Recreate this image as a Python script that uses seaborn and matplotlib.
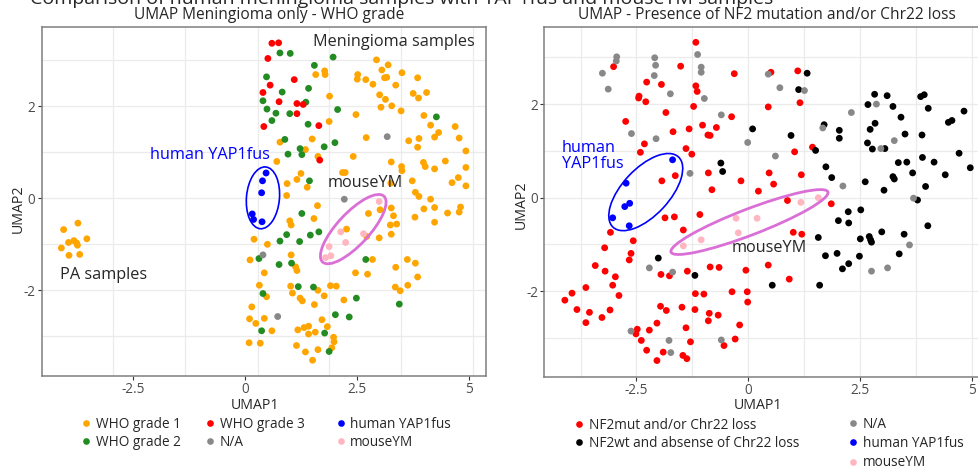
import numpy as np
import pandas as pd
import matplotlib
matplotlib.use("Agg")
import matplotlib.pyplot as plt
import matplotlib.transforms as mtransforms
from matplotlib.patches import Ellipse
from matplotlib.lines import Line2D
import seaborn as sns

# ---------------- left panel: WHO grade ----------------
grade1_x = [-4.06, -3.74, -3.54, -3.95, -3.83, -3.77, -3.75, -4.11, -3.94, -3.70,
            2.94, 3.20, 3.06, 1.78, 1.79, 1.58, 2.52, 2.51, 2.70, 3.17, 3.12, 3.51, 3.86,
            2.86, 3.37, 3.01, 3.76, 4.06, 3.88, 3.14, 1.89, 3.04, 3.28, 2.48, 3.49, 4.00,
            1.88, 4.15, 4.70, 4.33, 4.24, 3.89, 3.66, 4.79, 2.71, 1.50, 0.78, 3.86, 1.35,
            4.94, 2.42, 1.63, 0.71, 3.27, 3.99, 4.48, 3.50, 4.03, 4.24, 4.94, 3.51, 2.18,
            2.24, 1.25, 1.16, 4.77, 3.74, 3.26, 4.63, 0.94, 4.94, 1.39, 3.81, 0.93, 3.89,
            4.15,
            1.62, 3.27, 4.00, 4.24, 4.82, 4.79, 4.53, 4.24, 3.80, 3.32, 2.76, 3.02, 1.54,
            1.00, 1.03, 3.25, 3.39, 2.27, 2.72, 3.00, 3.27, 0.20, 0.50, 0.11, 1.03, 1.13,
            1.16, 0.43, 0.32, 0.48, 1.02, 1.06, 1.23, 1.28, 1.63, 1.77, 1.55, 1.91, 2.04,
            2.21, 2.47, 2.74, 2.85, 3.37, 3.63, 3.81, 3.86, 3.64, 3.36, 3.47, 0.15, 0.10,
            0.24, 0.43, 0.60, 1.18, 1.32, 1.42, 1.42, 1.57, 1.72, 1.84, 1.98, 1.99, 1.94,
            0.09, 0.34, 1.15, 1.35, 1.63, 1.51]
grade1_y = [-0.68, -0.54, -0.88, -0.96, -0.92, -0.97, -1.02, -1.08, -1.24, -1.22,
            3.01, 2.90, 2.79, 2.77, 2.69, 2.69, 2.69, 2.59, 2.58, 2.63, 2.62, 2.73, 2.62,
            2.48, 2.46, 2.25, 2.28, 2.30, 2.18, 2.15, 2.22, 1.98, 2.01, 1.82, 1.90, 1.80,
            1.67, 1.59, 1.56, 1.43, 1.33, 1.30, 1.25, 1.31, 1.32, 1.29, 1.22, 1.11, 1.06,
            1.03, 0.91, 0.91, 0.80, 0.79, 0.78, 0.81, 0.69, 0.69, 0.64, 0.67, 0.60, 0.56,
            0.56, 0.54, 0.41, 0.45, 0.38, 0.33, 0.34, 0.32, 0.27, 0.24, 0.13, 0.06, 0.04,
            -0.02,
            -0.16, -0.21, -0.23, -0.20, -0.19, -0.30, -0.32, -0.52, -0.41, -0.38, -0.33,
            -0.25, -0.44, -0.49, -0.58, -0.58, -0.56, -0.67, -0.83, -0.86, -0.78, -0.89,
            -1.00, -1.34, -1.23, -1.49, -1.57, -1.62, -1.89, -2.14, -1.91, -2.06, -2.17,
            -2.23, -2.00, -2.12, -2.31, -1.90, -1.91, -2.21, -1.62, -1.65, -1.33, -1.50,
            -1.33, -1.41, -1.71, -1.89, -1.93, -2.01, -2.36, -2.62, -2.72, -2.61, -2.88,
            -2.86, -2.81, -2.78, -2.95, -2.91, -2.64, -2.79, -3.02, -3.12, -3.25, -3.14,
            -3.15, -3.20, -3.34, -3.29, -3.52]

grade2_x = [0.78, 1.01, 1.97, 1.55, 0.48, 1.42, 0.83, 0.40, 1.36, 0.49, 0.69, 1.00,
            0.60, 2.07, 1.41, 4.28, 0.89, 2.01, 1.77, 1.23, 0.96, 1.27, 1.44,
            1.27, 0.93, 0.78, 1.22, 1.46, 1.65, 0.31, 0.76, 1.04, 2.70, 1.19, 1.53,
            0.40, 2.49, 2.02, 2.33, 3.45, 0.37, 1.78, 1.88]
grade2_y = [3.16, 3.15, 3.07, 2.89, 2.64, 2.39, 2.31, 2.12, 2.09, 1.94, 1.85, 1.84,
            1.69, 1.93, 1.61, 1.77, 1.28, 1.21, 1.12, 1.08, 0.96, 0.95, 0.38,
            -0.33, -0.79, -0.93, -0.94, -0.80, -0.73, -1.31, -1.44, -1.41, -1.33, -1.92,
            -1.93, -2.07, -2.17, -2.53, -2.58, -2.30, -2.88, -2.93, -3.33]

grade3_x = [0.60, 0.75, 0.51, 1.10, 0.56, 0.40, 0.76, 1.16, 1.30, 1.16, 0.42, 1.65, 1.67]
grade3_y = [3.37, 3.38, 3.04, 2.58, 2.46, 2.30, 2.10, 2.06, 2.04, 1.84, 1.56, 1.58, 0.83]

na_left_x = [3.18, 2.22, 0.40, 0.73]
na_left_y = [1.34, -0.02, -1.23, -2.57]

yap_left_x = [0.47, 0.39, 0.37, 0.16, 0.19, 0.38]
yap_left_y = [0.55, 0.38, 0.12, -0.34, -0.46, -0.51]

mouse_left_x = [3.00, 2.65, 2.14, 2.25, 1.88, 1.92, 1.80]
mouse_left_y = [-0.07, -0.77, -0.73, -0.96, -1.05, -1.25, -1.29]

# ---------------- right panel: NF2 / Chr22 ----------------
nf2mut_x = [-1.17, -3.01, -1.51, -0.31, -2.27, -1.94, -1.17, -1.14, -2.44, -2.45, -2.29,
            -1.22, -1.84, -0.37, -2.74, -1.02, -1.32, -1.68, -0.71, -0.90, -0.85, -2.32,
            -2.41, -1.39, -1.26, -1.93, -1.63, -0.89, -0.16, -0.81, 0.23,
            0.51, 1.11, 0.45, 1.16, 1.04, 1.44, 0.47, 1.19, 0.57, 0.88, 1.86,
            -1.86, -1.65, -1.08, -1.45, -3.08, -2.57, -3.21, -2.62, -2.66, -3.42, -3.20,
            -2.97, -3.03, -3.63, -3.94, -2.89, -4.10, -3.83, -3.55, -3.09, -3.27, -3.63,
            -1.95, -1.76, -1.36, -0.85, -0.65, -0.05, -1.18, -0.99, -0.36, -0.02, -0.01,
            -1.96, -1.83, -1.48, -1.19, -0.87, -0.67, -0.89, -0.19, -2.04, -2.21, -2.48,
            -2.51, -2.39, -1.39, -1.29, -0.29, -0.54, -2.27, -1.90, -2.04, -1.46, -1.37,
            1.01, 1.20, 0.45, 0.92]
nf2mut_y = [3.32, 2.80, 2.81, 2.65, 2.47, 2.42, 2.39, 2.27, 2.17, 2.13, 2.05,
            1.95, 1.82, 1.73, 1.63, 1.55, 1.47, 1.41, 1.50, 1.34, 1.33, 1.15,
            0.97, 1.05, 0.93, 0.36, 0.47, 0.53, 0.36, 0.17, 0.14,
            2.68, 2.71, 1.94, 2.03, 0.98, 1.08, 0.53, 0.49, 0.29, -0.06, -0.13,
            -0.43, -0.41, -0.36, -0.69, -0.74, -0.92, -1.07, -1.19, -1.33, -1.45, -1.57,
            -1.69, -1.87, -1.92, -2.04, -2.09, -2.19, -2.39, -2.45, -2.40, -2.56, -2.67,
            -1.64, -1.67, -1.57, -1.48, -1.49, -1.55, -2.05, -2.06, -2.01, -2.01, -2.23,
            -2.32, -2.41, -2.34, -2.39, -2.47, -2.51, -2.63, -2.72, -2.68, -2.83, -2.81,
            -2.91, -3.05, -2.78, -3.08, -3.02, -3.16, -3.26, -3.30, -3.48, -3.37, -3.44,
            -0.74, -0.78, -1.44, -1.74]

nf2wt_x = [0.10, -0.61, -0.57,
           1.32, 1.13, 2.83, 3.11, 2.68, 3.24, 3.42, 3.86, 3.94, 4.03, 4.83, 4.48, 4.56,
           2.84, 2.73, 1.70, 2.04, 2.04, 0.96, 1.51, 2.67, 2.78, 3.06, 3.51, 3.89, 4.72,
           3.90, 3.36, 3.55, 4.16, 4.97, 3.68, 4.41, 1.74, 1.87, 3.24, 3.27, 2.62, 3.04,
           3.97, 3.79,
           -2.01, -1.19,
           2.24, 2.52, 2.02, 2.25, 1.57, 2.51, 2.71, 2.74, 2.76, 2.99, 3.49, 4.02, 1.73,
           1.99, 2.49, 2.25, 2.11, 3.38, 0.54, 1.60]
nf2wt_y = [1.47, 0.74, 0.56,
           2.66, 2.31, 2.21, 2.18, 1.99, 1.95, 1.72, 2.16, 2.20, 1.91, 1.85, 1.61, 1.65,
           1.59, 1.46, 1.56, 1.44, 1.27, 1.33, 1.01, 1.17, 1.04, 1.05, 1.36, 1.34, 0.95,
           0.86, 0.75, 0.76, 0.76, 0.64, 0.53, 0.49, 0.66, 0.43, 0.45, 0.40, 0.34, 0.16,
           0.24, -0.05,
           -1.29, -1.66,
           -0.30, -0.26, -0.49, -0.54, -0.85, -0.88, -0.83, -0.90, -0.95, -0.73, -0.78,
           -0.60, -1.24, -1.19, -1.25, -1.41, -1.52, -1.20, -1.87, -1.87]

na_right_x = [-2.94, -2.95, -3.26, -3.13, -2.09, -2.07, -2.10, -1.74, -1.13, -1.05, -1.05,
              -0.98, -0.60, -2.61, -2.06, -0.01, -1.30,
              0.45, 0.71, 1.26, 2.31, 1.67, 0.61, 2.12, 2.87, 2.97, 3.27, 3.70,
              -2.21, -1.69, -2.62, -1.77, -1.73, -0.60,
              3.61, 2.76, 3.12]
na_right_y = [3.01, 2.92, 2.66, 2.32, 2.99, 2.83, 2.61, 2.22, 3.06, 2.79, 2.68,
              2.12, 1.77, 1.37, 1.26, 1.18, 0.52,
              2.64, 2.35, 2.29, 1.82, 1.49, 0.89, 0.25, 2.00, 1.05, 1.22, -0.01,
              -1.50, -1.59, -2.85, -3.05, -3.31, -3.04,
              -1.01, -1.57, -1.50]

yap_right_x = [-1.69, -2.73, -2.65, -2.76, -3.03, -2.66]
yap_right_y = [0.81, 0.31, -0.12, -0.19, -0.43, -0.60]

mouse_right_x = [-1.05, -1.45, -0.27, 0.20, -0.22, 1.18, 1.57]
mouse_right_y = [-0.90, -1.03, -0.44, -0.44, -0.75, -0.10, 0.00]

left_groups = [("WHO grade 1", grade1_x, grade1_y), ("WHO grade 2", grade2_x, grade2_y),
               ("WHO grade 3", grade3_x, grade3_y), ("N/A", na_left_x, na_left_y),
               ("human YAP1fus", yap_left_x, yap_left_y), ("mouseYM", mouse_left_x, mouse_left_y)]
right_groups = [("NF2mut and/or Chr22 loss", nf2mut_x, nf2mut_y),
                ("NF2wt and absense of Chr22 loss", nf2wt_x, nf2wt_y),
                ("N/A", na_right_x, na_right_y),
                ("human YAP1fus", yap_right_x, yap_right_y),
                ("mouseYM", mouse_right_x, mouse_right_y)]

colors = {"WHO grade 1": "#FFA500", "WHO grade 2": "#228B22", "WHO grade 3": "#FF0000",
          "N/A": "#888888", "human YAP1fus": "#0000FF", "mouseYM": "#FFB6C1",
          "NF2mut and/or Chr22 loss": "#FF0000", "NF2wt and absense of Chr22 loss": "#000000"}

sns.set_style("whitegrid")
plt.rcParams["font.family"] = ["Open Sans", "DejaVu Sans"]
plt.rcParams["axes.unicode_minus"] = False

DPI = 100
FIG_W, FIG_H = 979, 467
fig = plt.figure(figsize=(FIG_W / DPI, FIG_H / DPI), dpi=DPI)
ax1 = fig.add_axes([41.7 / FIG_W, 1 - 376 / FIG_H, 444.3 / FIG_W, 349 / FIG_H])
ax2 = fig.add_axes([544.3 / FIG_W, 1 - 376.7 / FIG_H, 444.3 / FIG_W, 350 / FIG_H])

TICK_FS = 9.8
LABEL_FS = 10.2
TITLE_FS = 11.2
NOTE_FS = 11.7
LEG_FS = 9.8


def to_frame(groups):
    parts = [pd.DataFrame({"UMAP1": xs, "UMAP2": ys, "group": name}) for name, xs, ys in groups]
    return pd.concat(parts, ignore_index=True)


def style_axis(ax, xlim, ylim, x_grid):
    ax.set_xlim(*xlim)
    ax.set_ylim(*ylim)
    ax.set_xticks([-2.5, 0, 2.5, 5], ["-2.5", "0", "2.5", "5"])
    ax.set_yticks([-2, 0, 2], ["-2", "0", "2"])
    ax.set_xticks(x_grid, minor=True)
    ax.set_yticks([-3, -1, 1, 3], minor=True)
    ax.grid(False)
    ax.grid(which="minor", color="#EBEBEB", lw=0.9)
    ax.grid(which="major", axis="y", color="#EBEBEB", lw=0.9)
    ax.set_axisbelow(True)
    ax.tick_params(which="major", length=3, width=0.8, color="#333333",
                   labelcolor="#4D4D4D", labelsize=TICK_FS, pad=1.5, bottom=True, left=True)
    ax.tick_params(which="minor", length=0)
    for sp in ax.spines.values():
        sp.set_color("#7F7F7F")
        sp.set_linewidth(1.1)
    ax.set_xlabel("UMAP1", fontsize=LABEL_FS, va="center")
    ax.set_ylabel("UMAP2", fontsize=LABEL_FS, va="center")


def add_ellipse(ax, center, w_px, h_px, angle, color, lw):
    tr = fig.dpi_scale_trans + mtransforms.ScaledTranslation(center[0], center[1], ax.transData)
    ax.add_patch(Ellipse((0, 0), w_px / DPI, h_px / DPI, angle=angle, transform=tr,
                         fill=False, ec=color, lw=lw, zorder=5))


def add_legend_column(names, marker_x_px, center_y_px, spacing):
    handles = [Line2D([], [], ls="", marker="o", markersize=4.8, markeredgewidth=0,
                      color=colors[n]) for n in names]
    hl = 0.8
    left = marker_x_px - hl * LEG_FS * DPI / 72 / 2
    leg = fig.legend(handles, names, loc="center left",
                     bbox_to_anchor=(left / FIG_W, 1 - center_y_px / FIG_H),
                     frameon=False, fontsize=LEG_FS, handlelength=hl, handletextpad=0.3,
                     borderpad=0, borderaxespad=0, labelspacing=spacing)
    return leg


# left panel
left_df = to_frame(left_groups)
sns.scatterplot(data=left_df, x="UMAP1", y="UMAP2", hue="group", palette=colors,
                s=24, linewidth=0, legend=False, ax=ax1, zorder=3)
style_axis(ax1, (-4.55, 5.39), (-3.863, 3.724), [-2.95, -1.34, 0.29, 1.88, 3.49, 5.10])
ax1.xaxis.set_label_coords(0.48, -0.084)
ax1.yaxis.set_label_coords(-0.053, 0.48)
ax1.text(0.511, 1.034, "UMAP Meningioma only - WHO grade", transform=ax1.transAxes,
         ha="center", va="center", fontsize=TITLE_FS)
ax1.text(1.52, 3.40, "Meningioma samples", fontsize=NOTE_FS, va="center")
ax1.text(-2.13, 0.94, "human YAP1fus", fontsize=NOTE_FS, va="center", color="#0000FF")
ax1.text(1.85, 0.33, "mouseYM", fontsize=NOTE_FS, va="center")
ax1.text(-4.14, -1.67, "PA samples", fontsize=NOTE_FS, va="center")
add_ellipse(ax1, (0.40, 0.01), 62, 33, 85, "#0000FF", 1.2)
add_ellipse(ax1, (2.42, -0.67), 90, 32, 47, "#DA70D6", 2.0)

# right panel
right_df = to_frame(right_groups)
sns.scatterplot(data=right_df, x="UMAP1", y="UMAP2", hue="group", palette=colors,
                s=24, linewidth=0, legend=False, ax=ax2, zorder=3)
style_axis(ax2, (-4.56, 5.38), (-3.825, 3.654), [-3.75, -1.25, 1.25, 3.75])
ax2.grid(which="major", axis="x", color="#EBEBEB", lw=0.9)
ax2.xaxis.set_label_coords(0.481, -0.082)
ax2.yaxis.set_label_coords(-0.052, 0.49)
ax2.text(0.5006, 1.033, "UMAP - Presence of NF2 mutation and/or Chr22 loss",
         transform=ax2.transAxes, ha="center", va="center", fontsize=TITLE_FS)
ax2.text(-4.17, 0.89, "human\nYAP1fus", fontsize=NOTE_FS, va="center", color="#0000FF",
         linespacing=0.95)
ax2.text(-0.36, -1.08, "mouseYM", fontsize=NOTE_FS, va="center")
add_ellipse(ax2, (-2.29, 0.12), 96, 47, 47, "#0000FF", 1.2)
add_ellipse(ax2, (0.03, -0.52), 168, 26, 21, "#DA70D6", 2.0)

# legends
add_legend_column(["WHO grade 1", "WHO grade 2"], 86, 433.5, 0.25)
add_legend_column(["WHO grade 3", "N/A"], 210, 433.5, 0.25)
add_legend_column(["human YAP1fus", "mouseYM"], 340.7, 433.5, 0.25)
add_legend_column(["NF2mut and/or Chr22 loss", "NF2wt and absense of Chr22 loss"], 579, 434.5, 0.2)
add_legend_column(["N/A", "human YAP1fus", "mouseYM"], 853.3, 443.5, 0.32)

# figure title, mostly cut off at the top edge in the source
fig.text(30 / FIG_W, 1 - 3.5 / FIG_H,
         "Comparison of human meningioma samples with YAP1fus and mouseYM samples",
         fontsize=14, ha="left", va="baseline")

fig.savefig("out.png", dpi=DPI)
